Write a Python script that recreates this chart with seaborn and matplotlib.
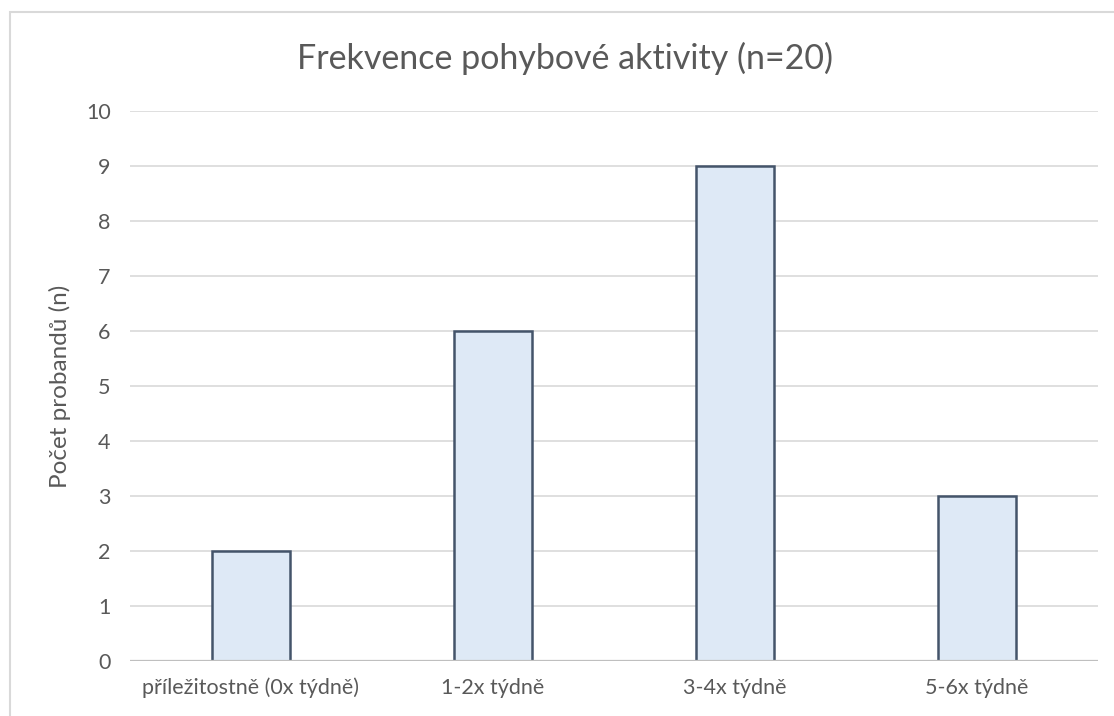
import matplotlib
matplotlib.use("Agg")
import matplotlib.pyplot as plt
from matplotlib.patches import Rectangle
import seaborn as sns
import pandas as pd

categories = ["příležitostně (0x týdně)", "1-2x týdně", "3-4x týdně", "5-6x týdně"]
counts = [2, 6, 9, 3]
y_ticks = [0, 1, 2, 3, 4, 5, 6, 7, 8, 9, 10]

df = pd.DataFrame({"kategorie": categories, "pocet": counts})

sns.set_theme(style="white")
plt.rcParams["font.family"] = ["Lato", "DejaVu Sans"]

text_color = "#595959"
grid_color = "#d9d9d9"

fig = plt.figure(figsize=(11.14, 7.16), dpi=100)
# chart-area frame, open to the right and bottom
fig.patches.append(Rectangle((10 / 1114, -0.1), 1.2, 1 - 12 / 716 + 0.1,
                             transform=fig.transFigure, facecolor="white",
                             edgecolor="#d9d9d9", linewidth=1.5, zorder=-5))
ax = fig.add_axes([130 / 1114, 1 - 661 / 716, 968 / 1114, 550 / 716])
ax.set_zorder(2)
ax.set_facecolor("none")

sns.barplot(data=df, x="kategorie", y="pocet", ax=ax, width=0.32,
            color="#dee9f6", edgecolor="#44546a", linewidth=1.8,
            saturation=1, zorder=2)

ax.set_ylim(0, 10)
ax.set_yticks(y_ticks)
ax.set_xlim(-0.5, len(categories) - 0.5)
for v in y_ticks[1:]:
    ax.axhline(v, color=grid_color, linewidth=1.2, zorder=1)
ax.axhline(0, color="#bfbfbf", linewidth=1.6, zorder=3)

for s in ax.spines.values():
    s.set_visible(False)

ax.tick_params(axis="both", length=0, labelsize=15.5, labelcolor=text_color)
ax.tick_params(axis="y", pad=14)
ax.tick_params(axis="x", pad=12)
ax.set_xlabel("")
ax.set_ylabel("Počet probandů (n)", fontsize=17.5, color=text_color, labelpad=11)
fig.text(0.5 + 8 / 1114, 1 - 58 / 716, "Frekvence pohybové aktivity (n=20)",
         ha="center", va="center", fontsize=24.5, color=text_color)

fig.savefig("out.png", dpi=100)
